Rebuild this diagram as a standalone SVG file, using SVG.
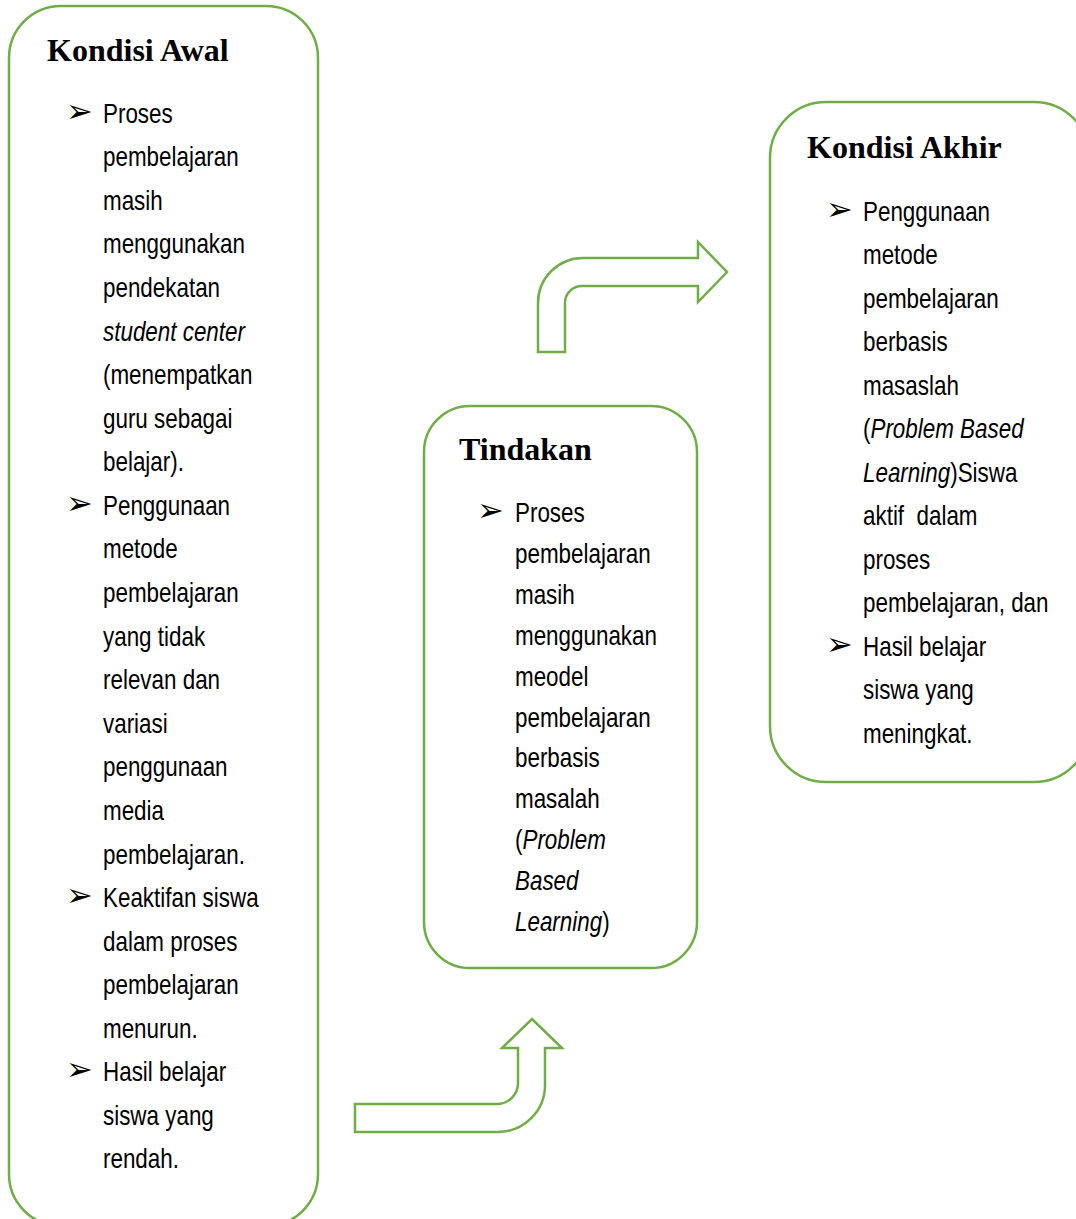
<svg xmlns="http://www.w3.org/2000/svg" width="1076" height="1219" viewBox="0 0 1076 1219">
<style>
.box{fill:#fff;stroke:#70AD47;stroke-width:2.5}
.arr{fill:#fff;stroke:#70AD47;stroke-width:2.5;stroke-linejoin:miter}
.h{font-family:"Liberation Serif","Times New Roman",serif;font-weight:bold;font-size:32px;fill:#000}
.t{font-family:"Liberation Sans",Arial,sans-serif;font-size:27px;fill:#000}
.i{font-style:italic}
.b{font-family:"DejaVu Sans",sans-serif;font-size:32px;fill:#000}
</style>
<rect width="1076" height="1219" fill="#fff"/>
<g id="connectors">
<path class="arr" d="M355,1104 H497 A21,21 0 0 0 518,1083 V1048 H502 L532,1019 L562,1048 H545 V1085 A47,47 0 0 1 498,1132 H355 Z"/>
<path class="arr" d="M538,352 V303 A45,45 0 0 1 583,258 H698 V242 L727,272 L698,302 V286 H582 A17,17 0 0 0 565,303 V352 Z"/>
</g>
<g id="kondisi-awal">
<rect class="box" x="9" y="6" width="309" height="1220" rx="52"/>
<text class="h" x="47" y="61">Kondisi Awal</text>
<text class="b" x="66" y="122">➢</text>
<text class="b" x="66" y="514">➢</text>
<text class="b" x="66" y="906">➢</text>
<text class="b" x="66" y="1080">➢</text>
<g class="t" transform="translate(103,0) scale(0.83,1)">
<text x="0" y="123">Proses</text>
<text x="0" y="166.5">pembelajaran</text>
<text x="0" y="210">masih</text>
<text x="0" y="253.5">menggunakan</text>
<text x="0" y="297">pendekatan</text>
<text x="0" y="341" class="i">student center</text>
<text x="0" y="384.5">(menempatkan</text>
<text x="0" y="428">guru sebagai</text>
<text x="0" y="471.5">belajar).</text>
<text x="0" y="515">Penggunaan</text>
<text x="0" y="558.5">metode</text>
<text x="0" y="602">pembelajaran</text>
<text x="0" y="646">yang tidak</text>
<text x="0" y="689.5">relevan dan</text>
<text x="0" y="733">variasi</text>
<text x="0" y="776.5">penggunaan</text>
<text x="0" y="820">media</text>
<text x="0" y="864">pembelajaran.</text>
<text x="0" y="907">Keaktifan siswa</text>
<text x="0" y="951">dalam proses</text>
<text x="0" y="994.5">pembelajaran</text>
<text x="0" y="1038">menurun.</text>
<text x="0" y="1081.5">Hasil belajar</text>
<text x="0" y="1125">siswa yang</text>
<text x="0" y="1168">rendah.</text>
</g>
</g>
<g id="tindakan">
<rect class="box" x="424" y="406" width="273" height="562" rx="46"/>
<text class="h" x="459" y="460">Tindakan</text>
<text class="b" x="477" y="521">➢</text>
<g class="t" transform="translate(515,0) scale(0.83,1)">
<text x="0" y="522">Proses</text>
<text x="0" y="563">pembelajaran</text>
<text x="0" y="604">masih</text>
<text x="0" y="645">menggunakan</text>
<text x="0" y="686">meodel</text>
<text x="0" y="727">pembelajaran</text>
<text x="0" y="767">berbasis</text>
<text x="0" y="808">masalah</text>
<text x="0" y="849">(<tspan class="i">Problem</tspan></text>
<text x="0" y="890" class="i">Based</text>
<text x="0" y="931"><tspan class="i">Learning</tspan>)</text>
</g>
</g>
<g id="kondisi-akhir">
<rect class="box" x="770" y="102" width="320" height="680" rx="56"/>
<text class="h" x="807" y="158">Kondisi Akhir</text>
<text class="b" x="826" y="220">➢</text>
<text class="b" x="826" y="655">➢</text>
<g class="t" transform="translate(863,0) scale(0.83,1)">
<text x="0" y="221">Penggunaan</text>
<text x="0" y="264.5">metode</text>
<text x="0" y="308">pembelajaran</text>
<text x="0" y="351.5">berbasis</text>
<text x="0" y="395">masaslah</text>
<text x="0" y="438.5">(<tspan class="i">Problem Based</tspan></text>
<text x="0" y="482"><tspan class="i">Learning</tspan>)Siswa</text>
<text x="0" y="525.5" xml:space="preserve">aktif  dalam</text>
<text x="0" y="569">proses</text>
<text x="0" y="612.5">pembelajaran, dan</text>
<text x="0" y="656">Hasil belajar</text>
<text x="0" y="699.5">siswa yang</text>
<text x="0" y="743">meningkat.</text>
</g>
</g>
</svg>
